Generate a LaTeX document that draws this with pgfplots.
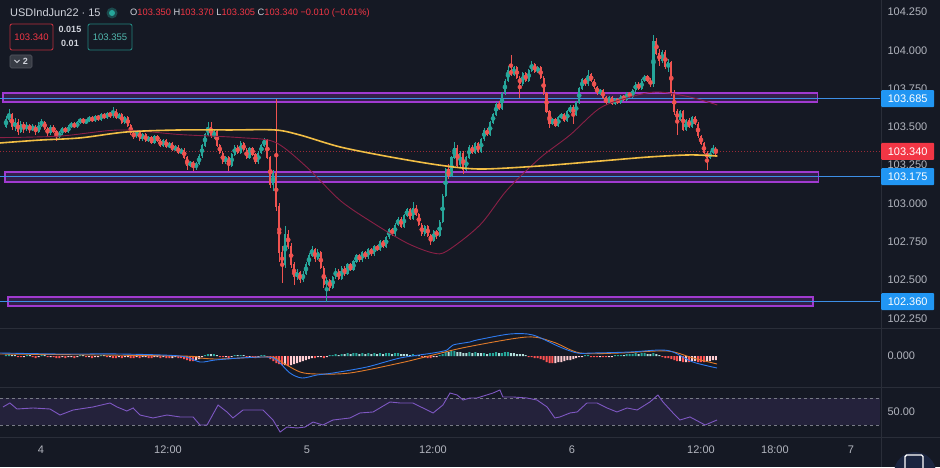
\documentclass[border=0pt]{standalone}
\usepackage{pgfplots}
\pgfplotsset{compat=1.18}
\usepackage{pgfplotstable}
\usepackage{fontspec}
\setmainfont{Liberation Sans}
\definecolor{bg}{HTML}{151924}
\definecolor{sep}{HTML}{2A2E39}
\definecolor{lbl}{HTML}{B2B5BE}
\definecolor{txt}{HTML}{D1D4DC}
\definecolor{upc}{HTML}{26A69A}
\definecolor{dnc}{HTML}{EF5350}
\definecolor{pricered}{HTML}{F23645}
\definecolor{boxpurple}{HTML}{A03AD0}
\definecolor{lineblue}{HTML}{3D8FE6}
\definecolor{lblblue}{HTML}{2196F3}
\definecolor{mayl}{HTML}{F2BE45}
\definecolor{mamar}{HTML}{8A2046}
\definecolor{macdblue}{HTML}{2E7BF0}
\definecolor{macdorange}{HTML}{E07A2A}
\definecolor{hteal}{HTML}{26A69A}
\definecolor{hpteal}{HTML}{B2DFDB}
\definecolor{hpred}{HTML}{FFCDD2}
\definecolor{hred}{HTML}{FF5252}
\definecolor{rsic}{HTML}{7E57C2}
\definecolor{dashgray}{HTML}{787B86}
\definecolor{btn}{HTML}{1B2540}

% 15-minute candles: open high low close
\pgfplotstableread[row sep=\\]{
o h l c\\
103.50 103.57 103.49 103.55\\ 103.55 103.62 103.53 103.58\\ 103.58 103.59 103.48 103.50\\ 103.50 103.56 103.47 103.53\\
103.53 103.55 103.45 103.47\\ 103.47 103.54 103.46 103.52\\ 103.52 103.53 103.46 103.49\\ 103.49 103.53 103.47 103.51\\
103.51 103.52 103.46 103.48\\ 103.48 103.52 103.47 103.50\\ 103.50 103.51 103.45 103.47\\ 103.47 103.53 103.46 103.51\\
103.51 103.55 103.50 103.53\\ 103.53 103.54 103.48 103.49\\ 103.49 103.50 103.44 103.46\\ 103.46 103.51 103.45 103.50\\
103.50 103.51 103.46 103.47\\ 103.47 103.48 103.41 103.44\\ 103.44 103.47 103.43 103.46\\ 103.46 103.50 103.45 103.49\\
103.49 103.50 103.46 103.47\\ 103.47 103.51 103.46 103.50\\ 103.50 103.53 103.49 103.52\\ 103.52 103.53 103.49 103.50\\
103.50 103.54 103.49 103.53\\ 103.53 103.56 103.52 103.55\\ 103.55 103.56 103.52 103.53\\ 103.53 103.55 103.52 103.54\\
103.54 103.57 103.53 103.56\\ 103.56 103.57 103.53 103.54\\ 103.54 103.58 103.53 103.57\\ 103.57 103.58 103.54 103.55\\
103.55 103.59 103.54 103.58\\ 103.58 103.59 103.55 103.56\\ 103.56 103.60 103.55 103.59\\ 103.59 103.60 103.56 103.57\\
103.57 103.63 103.56 103.60\\ 103.60 103.62 103.55 103.56\\ 103.56 103.59 103.55 103.58\\ 103.58 103.59 103.52 103.53\\
103.53 103.57 103.52 103.56\\ 103.56 103.57 103.50 103.51\\ 103.51 103.52 103.45 103.46\\ 103.46 103.47 103.42 103.44\\
103.44 103.48 103.43 103.47\\ 103.47 103.48 103.41 103.42\\ 103.42 103.46 103.41 103.45\\ 103.45 103.46 103.40 103.41\\
103.41 103.44 103.40 103.43\\ 103.43 103.44 103.39 103.40\\ 103.40 103.45 103.39 103.44\\ 103.44 103.45 103.40 103.41\\
103.41 103.42 103.37 103.38\\ 103.38 103.42 103.37 103.41\\ 103.41 103.42 103.36 103.37\\ 103.37 103.40 103.36 103.39\\
103.39 103.40 103.34 103.35\\ 103.35 103.38 103.34 103.37\\ 103.37 103.38 103.32 103.33\\ 103.33 103.36 103.32 103.35\\
103.35 103.36 103.29 103.30\\ 103.30 103.31 103.22 103.25\\ 103.25 103.28 103.24 103.27\\ 103.27 103.28 103.21 103.24\\
103.24 103.27 103.22 103.26\\ 103.26 103.32 103.25 103.31\\ 103.31 103.39 103.30 103.38\\ 103.38 103.46 103.37 103.45\\
103.45 103.53 103.44 103.50\\ 103.50 103.53 103.43 103.44\\ 103.44 103.48 103.42 103.47\\ 103.47 103.48 103.37 103.38\\
103.38 103.39 103.32 103.33\\ 103.33 103.34 103.26 103.27\\ 103.27 103.31 103.26 103.30\\ 103.30 103.31 103.21 103.25\\
103.25 103.33 103.24 103.32\\ 103.32 103.38 103.31 103.37\\ 103.37 103.38 103.32 103.33\\ 103.33 103.41 103.32 103.39\\
103.39 103.40 103.34 103.35\\ 103.35 103.36 103.29 103.30\\ 103.30 103.37 103.29 103.36\\ 103.36 103.37 103.31 103.32\\
103.32 103.33 103.26 103.27\\ 103.27 103.34 103.26 103.33\\ 103.33 103.39 103.32 103.38\\ 103.38 103.43 103.37 103.41\\
103.41 103.42 103.29 103.30\\ 103.30 103.31 103.10 103.12\\ 103.12 103.22 103.08 103.20\\ 103.20 103.68 102.95 102.98\\
102.98 103.00 102.62 102.68\\ 102.68 102.72 102.48 102.60\\ 102.60 102.85 102.58 102.80\\ 102.80 102.83 102.70 102.72\\
102.72 102.74 102.58 102.60\\ 102.60 102.62 102.47 102.52\\ 102.52 102.57 102.50 102.55\\ 102.55 102.56 102.48 102.50\\
102.50 102.56 102.49 102.54\\ 102.54 102.62 102.53 102.60\\ 102.60 102.68 102.59 102.66\\ 102.66 102.72 102.65 102.70\\
102.70 102.71 102.62 102.64\\ 102.64 102.70 102.63 102.68\\ 102.68 102.69 102.57 102.58\\ 102.58 102.59 102.45 102.47\\
102.47 102.52 102.36 102.50\\ 102.50 102.51 102.43 102.45\\ 102.45 102.53 102.44 102.52\\ 102.52 102.58 102.51 102.56\\
102.56 102.57 102.50 102.51\\ 102.51 102.59 102.50 102.58\\ 102.58 102.59 102.53 102.54\\ 102.54 102.61 102.53 102.60\\
102.60 102.61 102.56 102.57\\ 102.57 102.63 102.56 102.62\\ 102.62 102.67 102.61 102.66\\ 102.66 102.67 102.62 102.63\\
102.63 102.69 102.62 102.68\\ 102.68 102.69 102.64 102.65\\ 102.65 102.71 102.64 102.70\\ 102.70 102.71 102.66 102.67\\
102.67 102.73 102.66 102.72\\ 102.72 102.73 102.69 102.70\\ 102.70 102.76 102.69 102.75\\ 102.75 102.76 102.71 102.72\\
102.72 102.79 102.71 102.78\\ 102.78 102.84 102.77 102.83\\ 102.83 102.84 102.79 102.80\\ 102.80 102.87 102.79 102.86\\
102.86 102.91 102.85 102.90\\ 102.90 102.91 102.84 102.85\\ 102.85 102.93 102.84 102.92\\ 102.92 102.97 102.91 102.96\\
102.96 102.97 102.89 102.90\\ 102.90 103.01 102.89 102.97\\ 102.97 102.99 102.92 102.93\\ 102.93 102.94 102.85 102.86\\
102.86 102.87 102.79 102.80\\ 102.80 102.86 102.79 102.85\\ 102.85 102.86 102.78 102.79\\ 102.79 102.80 102.73 102.76\\
102.76 102.83 102.75 102.82\\ 102.82 102.83 102.77 102.79\\ 102.79 102.89 102.78 102.88\\ 102.88 103.06 102.87 103.05\\
103.05 103.23 103.04 103.22\\ 103.22 103.26 103.16 103.18\\ 103.18 103.31 103.17 103.30\\ 103.30 103.40 103.29 103.36\\
103.36 103.38 103.24 103.25\\ 103.25 103.34 103.24 103.33\\ 103.33 103.34 103.19 103.22\\ 103.22 103.31 103.21 103.30\\
103.30 103.38 103.29 103.37\\ 103.37 103.38 103.32 103.33\\ 103.33 103.40 103.32 103.39\\ 103.39 103.40 103.33 103.34\\
103.34 103.43 103.33 103.42\\ 103.42 103.49 103.41 103.48\\ 103.48 103.49 103.44 103.45\\ 103.45 103.54 103.44 103.53\\
103.53 103.59 103.52 103.58\\ 103.58 103.66 103.57 103.65\\ 103.65 103.67 103.61 103.62\\ 103.62 103.73 103.61 103.72\\
103.72 103.81 103.71 103.80\\ 103.80 103.90 103.79 103.87\\ 103.87 103.97 103.83 103.84\\ 103.84 103.90 103.83 103.89\\
103.89 103.90 103.81 103.82\\ 103.82 103.83 103.69 103.78\\ 103.78 103.86 103.77 103.85\\ 103.85 103.86 103.79 103.80\\
103.80 103.88 103.79 103.87\\ 103.87 103.93 103.86 103.91\\ 103.91 103.92 103.85 103.86\\ 103.86 103.90 103.85 103.89\\
103.89 103.90 103.81 103.82\\ 103.82 103.83 103.71 103.72\\ 103.72 103.73 103.59 103.60\\ 103.60 103.61 103.49 103.52\\
103.52 103.56 103.51 103.55\\ 103.55 103.56 103.50 103.51\\ 103.51 103.57 103.50 103.56\\ 103.56 103.59 103.55 103.58\\
103.58 103.59 103.53 103.54\\ 103.54 103.61 103.53 103.60\\ 103.60 103.64 103.59 103.63\\ 103.63 103.64 103.52 103.58\\
103.58 103.67 103.57 103.66\\ 103.66 103.76 103.65 103.75\\ 103.75 103.82 103.74 103.81\\ 103.81 103.82 103.77 103.78\\
103.78 103.87 103.77 103.84\\ 103.84 103.85 103.79 103.80\\ 103.80 103.81 103.75 103.76\\ 103.76 103.77 103.71 103.72\\
103.72 103.75 103.71 103.74\\ 103.74 103.75 103.68 103.69\\ 103.69 103.70 103.64 103.66\\ 103.66 103.70 103.65 103.69\\
103.69 103.70 103.64 103.65\\ 103.65 103.69 103.64 103.68\\ 103.68 103.69 103.65 103.66\\ 103.66 103.71 103.65 103.70\\
103.70 103.71 103.67 103.68\\ 103.68 103.73 103.67 103.72\\ 103.72 103.73 103.69 103.70\\ 103.70 103.75 103.69 103.74\\
103.74 103.79 103.73 103.78\\ 103.78 103.79 103.74 103.75\\ 103.75 103.81 103.74 103.80\\ 103.80 103.84 103.79 103.83\\
103.83 103.84 103.79 103.80\\ 103.80 103.82 103.76 103.78\\ 103.78 104.10 103.76 104.06\\ 104.06 104.08 103.97 103.98\\
103.98 104.01 103.90 103.93\\ 103.93 104.00 103.92 103.99\\ 103.99 104.00 103.88 103.89\\ 103.89 103.94 103.86 103.92\\
103.92 103.93 103.70 103.72\\ 103.72 103.74 103.58 103.60\\ 103.60 103.62 103.45 103.55\\ 103.55 103.61 103.54 103.60\\
103.60 103.61 103.47 103.48\\ 103.48 103.55 103.47 103.54\\ 103.54 103.56 103.49 103.50\\ 103.50 103.57 103.49 103.56\\
103.56 103.57 103.51 103.52\\ 103.52 103.53 103.43 103.44\\ 103.44 103.45 103.38 103.39\\ 103.39 103.40 103.32 103.33\\
103.33 103.34 103.22 103.30\\ 103.30 103.34 103.29 103.33\\ 103.33 103.38 103.32 103.36\\ 103.35 103.37 103.305 103.34\\
}\candles

% MACD histogram: value, colour class (0 teal, 1 pale teal, 2 pale red, 3 red)
\pgfplotstableread[row sep=\\]{
v k\\
0.001 0\\ 0.002 0\\ 0.001 1\\ 0.001 1\\ -0.001 3\\ -0.001 3\\ -0.001 2\\ 0.001 0\\ 0.001 1\\ -0.001 3\\
-0.002 3\\ -0.001 2\\ 0.001 0\\ 0.001 1\\ -0.001 3\\ -0.001 2\\ -0.001 3\\ -0.002 3\\ -0.002 3\\ -0.001 2\\
-0.002 3\\ -0.001 2\\ -0.001 2\\ -0.002 3\\ -0.001 2\\ 0.001 0\\ 0.001 1\\ -0.001 3\\ -0.001 2\\ -0.002 3\\
-0.001 2\\ -0.001 2\\ 0.001 0\\ 0.001 1\\ -0.001 3\\ -0.001 2\\ -0.002 3\\ -0.002 3\\ -0.001 2\\ -0.002 3\\
-0.001 2\\ -0.001 2\\ -0.002 3\\ -0.002 3\\ -0.001 2\\ -0.002 3\\ -0.001 2\\ -0.001 2\\ -0.002 3\\ -0.002 3\\
-0.001 2\\ -0.001 2\\ -0.002 3\\ -0.001 2\\ -0.002 3\\ -0.002 3\\ -0.002 2\\ -0.001 2\\ -0.002 3\\ -0.002 3\\
-0.003 3\\ -0.004 3\\ -0.005 3\\ -0.005 3\\ -0.004 2\\ -0.003 2\\ -0.001 2\\ 0.001 0\\ 0.002 0\\ 0.002 1\\
0.002 0\\ 0.001 1\\ -0.001 3\\ -0.001 3\\ -0.001 2\\ -0.002 3\\ -0.001 2\\ 0.001 0\\ 0.001 1\\ 0.001 0\\
0.001 1\\ -0.001 3\\ -0.001 2\\ -0.001 3\\ -0.002 3\\ -0.001 2\\ 0.001 0\\ 0.001 0\\ -0.001 3\\ -0.003 3\\
-0.005 3\\ -0.007 3\\ -0.008 3\\ -0.009 3\\ -0.009 2\\ -0.010 3\\ -0.009 2\\ -0.008 2\\ -0.007 2\\ -0.006 2\\
-0.005 2\\ -0.004 2\\ -0.003 2\\ -0.002 2\\ -0.002 3\\ -0.001 2\\ -0.001 2\\ -0.002 3\\ -0.001 2\\ 0.001 0\\
0.001 0\\ 0.002 0\\ 0.001 1\\ 0.002 0\\ 0.002 1\\ 0.003 0\\ 0.002 1\\ 0.003 0\\ 0.003 0\\ 0.002 1\\
0.003 0\\ 0.002 1\\ 0.003 0\\ 0.002 1\\ 0.003 0\\ 0.002 1\\ 0.003 0\\ 0.002 1\\ 0.003 0\\ 0.003 0\\
0.002 1\\ 0.003 0\\ 0.003 0\\ 0.002 1\\ 0.002 1\\ 0.002 1\\ 0.001 1\\ 0.002 0\\ 0.001 1\\ 0.001 1\\
-0.001 3\\ -0.001 2\\ -0.002 3\\ -0.002 3\\ -0.001 2\\ -0.001 2\\ 0.001 0\\ 0.002 0\\ 0.004 0\\ 0.004 1\\
0.005 0\\ 0.005 0\\ 0.004 1\\ 0.004 1\\ 0.003 1\\ 0.003 1\\ 0.004 0\\ 0.003 1\\ 0.004 0\\ 0.003 1\\
0.003 1\\ 0.003 0\\ 0.002 1\\ 0.003 0\\ 0.003 0\\ 0.004 0\\ 0.003 1\\ 0.003 0\\ 0.004 0\\ 0.004 0\\
0.003 1\\ 0.003 1\\ 0.002 1\\ 0.002 1\\ 0.002 1\\ 0.001 1\\ -0.001 3\\ -0.001 3\\ -0.002 3\\ -0.002 3\\
-0.003 3\\ -0.004 3\\ -0.006 3\\ -0.007 3\\ -0.007 3\\ -0.007 2\\ -0.006 2\\ -0.006 2\\ -0.005 2\\ -0.004 2\\
-0.004 2\\ -0.003 2\\ -0.002 2\\ -0.001 2\\ -0.001 2\\ 0.001 0\\ 0.001 0\\ -0.001 3\\ -0.001 3\\ -0.001 3\\
-0.001 2\\ -0.001 3\\ -0.001 3\\ -0.001 2\\ -0.001 2\\ 0.001 0\\ 0.001 0\\ 0.001 0\\ 0.001 1\\ 0.002 0\\
0.002 0\\ 0.002 0\\ 0.003 0\\ 0.002 1\\ 0.003 0\\ 0.003 0\\ 0.002 1\\ 0.002 1\\ 0.003 0\\ 0.002 1\\
0.001 1\\ -0.001 3\\ -0.002 3\\ -0.002 3\\ -0.003 3\\ -0.004 3\\ -0.005 3\\ -0.005 2\\ -0.006 3\\ -0.006 2\\
-0.006 3\\ -0.005 2\\ -0.005 2\\ -0.006 3\\ -0.006 3\\ -0.006 3\\ -0.005 2\\ -0.005 2\\ -0.004 2\\ -0.004 2\\
}\hist

\begin{document}
\begin{tikzpicture}[x=1pt,y=1pt]
\fill[bg] (0pt,0pt) rectangle (940pt,467pt);
\pgfplotsset{panel/.style={scale only axis, width=880pt, anchor=south west,
  xmin=-2.02, xmax=294.28, axis line style={draw=none}, tick style={draw=none},
  xtick=\empty, yticklabel pos=right, clip mode=individual, scaled y ticks=false,
  tick label style={font=\fontsize{11}{13}\selectfont, text=lbl},
  yticklabel style={xshift=4pt},
  /pgf/number format/assume math mode=true}}

% ---------------- price panel ----------------
\begin{axis}[panel, at={(0pt,140pt)}, height=327pt, ymin=102.1938, ymax=104.3283,
  ytick={102.25,102.5,102.75,103,103.25,103.5,103.75,104,104.25},
  y tick label style={/pgf/number format/fixed, /pgf/number format/fixed zerofill, /pgf/number format/precision=3}]
% zones
\addplot[draw=boxpurple, line width=1.2pt, fill=boxpurple, fill opacity=0.22] coordinates {(-1.01,103.663) (273.1,103.663) (273.1,103.721) (-1.01,103.721)} -- cycle;
\addplot[draw=boxpurple, line width=1.2pt, fill=boxpurple, fill opacity=0.22] coordinates {(-0.34,103.140) (273.7,103.140) (273.7,103.206) (-0.34,103.206)} -- cycle;
\addplot[draw=boxpurple, line width=1.2pt, fill=boxpurple, fill opacity=0.22] coordinates {(0.67,102.331) (271.7,102.331) (271.7,102.390) (0.67,102.390)} -- cycle;
\addplot[lineblue, line width=0.9pt] coordinates {(-2.02,103.685) (294.28,103.685)};
\addplot[lineblue, line width=0.9pt] coordinates {(-2.02,103.175) (294.28,103.175)};
\addplot[lineblue, line width=0.9pt] coordinates {(-2.02,102.360) (294.28,102.360)};
\addplot[pricered, opacity=0.6, line width=0.7pt, dash pattern=on 1pt off 2pt] coordinates {(-2.02,103.34) (294.28,103.34)};
% candles: wicks
\addplot[upc, only marks, mark=none, error bars/.cd, y dir=both, y explicit, error mark=none, error bar style={draw=upc, line width=0.7pt}]
  table[x expr=\coordindex, y expr={\thisrow{c}>=\thisrow{o} ? 0.5*(\thisrow{h}+\thisrow{l}) : nan}, y error expr={0.5*(\thisrow{h}-\thisrow{l})}] {\candles};
\addplot[dnc, only marks, mark=none, error bars/.cd, y dir=both, y explicit, error mark=none, error bar style={draw=dnc, line width=0.7pt}]
  table[x expr=\coordindex, y expr={\thisrow{c}<\thisrow{o} ? 0.5*(\thisrow{h}+\thisrow{l}) : nan}, y error expr={0.5*(\thisrow{h}-\thisrow{l})}] {\candles};
% candles: bodies
\addplot[upc, only marks, mark=none, error bars/.cd, y dir=both, y explicit, error mark=none, error bar style={draw=upc, line width=2.1pt}]
  table[x expr=\coordindex, y expr={\thisrow{c}>=\thisrow{o} ? 0.5*(\thisrow{o}+\thisrow{c}) : nan}, y error expr={0.5*abs(\thisrow{c}-\thisrow{o})+0.002}] {\candles};
\addplot[dnc, only marks, mark=none, error bars/.cd, y dir=both, y explicit, error mark=none, error bar style={draw=dnc, line width=2.1pt}]
  table[x expr=\coordindex, y expr={\thisrow{c}<\thisrow{o} ? 0.5*(\thisrow{o}+\thisrow{c}) : nan}, y error expr={0.5*abs(\thisrow{c}-\thisrow{o})+0.002}] {\candles};
% moving averages
\addplot[mamar, line width=0.9pt, smooth] coordinates {(-2.02,103.43) (18.2,103.44) (38.4,103.48) (58.6,103.45) (78.8,103.43) (90.6,103.40) (101.3,103.237) (112.5,103.02) (123.6,102.873) (135.0,102.742) (143.8,102.677) (148.5,102.69) (159.6,102.86) (168.7,103.088) (179.8,103.297) (189.9,103.447) (200,103.623) (210.1,103.695) (219.2,103.728) (230.3,103.695) (239.5,103.643)};
\addplot[mayl, line width=1.6pt, smooth] coordinates {(-2.02,103.395) (11.4,103.414) (24.9,103.428) (40.7,103.467) (58.6,103.48) (75.4,103.48) (90.6,103.48) (99.0,103.447) (112.5,103.369) (129.3,103.304) (146.1,103.25) (159.6,103.225) (179.8,103.245) (200,103.277) (216.8,103.304) (230.3,103.317) (239.5,103.31)};
\coordinate (LA) at (axis cs:294.28,103.685);
\coordinate (LB) at (axis cs:294.28,103.34);
\coordinate (LC) at (axis cs:294.28,103.175);
\coordinate (LD) at (axis cs:294.28,102.36);
\end{axis}

% ---------------- MACD panel ----------------
\begin{axis}[panel, at={(0pt,81pt)}, height=57pt, ymin=-0.030, ymax=0.027, ytick={0},
  y tick label style={/pgf/number format/fixed, /pgf/number format/fixed zerofill, /pgf/number format/precision=3}]
\addplot[ybar, bar width=2pt, bar shift=0pt, fill=hteal, draw=none] table[x expr=\coordindex, y expr={\thisrow{k}==0 ? \thisrow{v} : nan}] {\hist};
\addplot[ybar, bar width=2pt, bar shift=0pt, fill=hpteal, draw=none] table[x expr=\coordindex, y expr={\thisrow{k}==1 ? \thisrow{v} : nan}] {\hist};
\addplot[ybar, bar width=2pt, bar shift=0pt, fill=hpred, draw=none] table[x expr=\coordindex, y expr={\thisrow{k}==2 ? \thisrow{v} : nan}] {\hist};
\addplot[ybar, bar width=2pt, bar shift=0pt, fill=hred, draw=none] table[x expr=\coordindex, y expr={\thisrow{k}==3 ? \thisrow{v} : nan}] {\hist};
\addplot[macdorange, line width=0.9pt, smooth] coordinates {(-2.02,0.002) (58.6,0.000) (65.3,-0.002) (72.1,-0.003) (88.9,-0.001) (93.3,-0.007) (99.0,-0.016) (104.7,-0.018) (115.8,-0.017) (132.7,-0.007) (143.8,0.001) (155.2,0.009) (175.4,0.019) (184.2,0.014) (193.3,0.003) (206.7,0.003) (222.6,0.005) (231.3,-0.002) (239.4,-0.008)};
\addplot[macdblue, line width=0.9pt, smooth] coordinates {(-2.02,0.003) (18.2,0.002) (38.4,0.002) (58.6,0.000) (65.3,-0.006) (70.4,-0.004) (78.8,-0.002) (87.9,-0.001) (91.2,-0.004) (95.6,-0.017) (99.7,-0.022) (104.7,-0.019) (110.1,-0.017) (121.5,-0.011) (132.7,-0.002) (143.8,0.003) (148.5,0.006) (150.5,0.011) (156.2,0.014) (158.6,0.016) (169.7,0.022) (177.4,0.021) (186.5,0.009) (192.3,0.003) (197.6,0.003) (210.1,0.004) (220.2,0.006) (224.6,0.004) (231.3,-0.006) (239.4,-0.012)};
\end{axis}

% ---------------- RSI panel ----------------
\begin{axis}[panel, at={(0pt,31pt)}, height=48pt, ymin=13.7, ymax=84.8, ytick={50},
  y tick label style={/pgf/number format/fixed, /pgf/number format/fixed zerofill, /pgf/number format/precision=2},
  xtick={11.78,54.55,101.35,143.77,190.57,234.0,258.9,284.5},
  xticklabels={4,12:00,5,12:00,6,12:00,18:00,7},
  xticklabel style={yshift=-6pt}]
\addplot[draw=none, fill=rsic, fill opacity=0.15] coordinates {(-2.02,30) (294.28,30) (294.28,70) (-2.02,70)} -- cycle;
\addplot[dashgray, line width=0.7pt, dash pattern=on 3pt off 3pt] coordinates {(-2.02,70) (294.28,70)};
\addplot[dashgray, line width=0.7pt, dash pattern=on 3pt off 3pt] coordinates {(-2.02,30) (294.28,30)};
\addplot[rsic, line width=0.9pt] coordinates {(-1.0,56.7) (1.3,62.6) (3.7,53.7) (9.1,55.2) (14.8,53.7) (18.2,44.8) (22.6,52.2) (29.3,56.7) (35.0,62.6) (37.4,56.7) (40.7,50.7) (42.8,55.2) (45.1,44.8) (49.5,40.4) (54.2,44.8) (58.6,41.9) (63.0,41.9) (65.3,30.0) (67.7,30.0) (71.4,59.6) (74.4,49.3) (76.4,40.4) (79.8,52.2) (86.5,52.2) (89.9,37.4) (92.3,19.6) (94.6,27.0) (98.0,25.6) (100.7,27.0) (103.4,34.4) (106.7,30.0) (110.1,37.4) (115.8,40.4) (119.2,47.8) (123.6,49.3) (129.3,64.1) (132.7,62.6) (137.0,62.6) (140.4,55.2) (143.8,47.8) (147.1,59.6) (149.5,77.4) (151.9,74.4) (153.9,67.0) (156.2,70.0) (158.6,70.0) (164.0,77.4) (166.3,81.9) (167.3,71.5) (170.7,71.5) (175.4,70.0) (178.8,67.0) (182.2,56.7) (184.8,40.4) (186.5,41.9) (189.9,47.8) (192.3,49.3) (195.6,62.6) (199.0,62.6) (202.4,55.2) (205.7,49.3) (209.1,55.2) (212.5,52.2) (216.8,64.1) (219.5,74.4) (221.2,64.1) (224.6,47.8) (226.9,37.4) (230.3,41.9) (235.4,30.0) (239.4,37.4)};
\end{axis}

% separators
\draw[sep, line width=1pt] (0pt,139pt) -- (940pt,139pt);
\draw[sep, line width=1pt] (0pt,80pt) -- (940pt,80pt);
\draw[sep, line width=1pt] (0pt,30pt) -- (940pt,30pt);
\draw[sep, line width=1pt] (881pt,0pt) -- (881pt,467pt);

% price labels on the scale
\tikzset{plbl/.style={anchor=west, inner sep=0pt, minimum width=53pt, minimum height=17pt, text=white, font=\fontsize{11}{13}\selectfont, rounded corners=1pt}}
\node[plbl, fill=lblblue] at ([xshift=1pt]LA) {103.685};
\node[plbl, fill=pricered] at ([xshift=1pt]LB) {103.340};
\node[plbl, fill=lblblue] at ([xshift=1pt]LC) {103.175};
\node[plbl, fill=lblblue] at ([xshift=1pt]LD) {102.360};

% header
\node[anchor=west, inner sep=0, text=txt, font=\fontsize{11}{13}\selectfont] at (10pt,454pt) {USDIndJun22\hspace{3pt}·\hspace{3pt}15};
\fill[upc!35!bg] (112pt,454pt) circle (5.5pt);
\fill[upc] (112pt,454pt) circle (3pt);
\node[anchor=west, inner sep=0, font=\fontsize{9.3}{11}\selectfont] at (130pt,454pt)
  {\textcolor{txt}{O}\textcolor{pricered}{103.350}\hspace{2.5pt}\textcolor{txt}{H}\textcolor{pricered}{103.370}\hspace{2.5pt}\textcolor{txt}{L}\textcolor{pricered}{103.305}\hspace{2.5pt}\textcolor{txt}{C}\textcolor{pricered}{103.340}\hspace{2.5pt}\textcolor{pricered}{−0.010 (−0.01\%)}};
\draw[pricered!75!bg, line width=0.9pt, rounded corners=2pt] (10pt,417pt) rectangle (53pt,443pt);
\node[text=pricered, font=\fontsize{9.5}{11}\selectfont] at (31.5pt,430pt) {103.340};
\node[text=txt, font=\fontsize{9}{11}\selectfont\bfseries] at (70pt,438pt) {0.015};
\node[text=txt, font=\fontsize{9}{11}\selectfont\bfseries] at (70pt,424pt) {0.01};
\draw[upc!75!bg, line width=0.9pt, rounded corners=2pt] (88pt,417pt) rectangle (132pt,443pt);
\node[text=upc!80!white, font=\fontsize{9.5}{11}\selectfont] at (110pt,430pt) {103.355};
\draw[sep!80!white, line width=0.7pt, rounded corners=1.5pt, fill=bg!85!white] (10pt,399pt) rectangle (32pt,412pt);
\draw[txt, line width=0.8pt] (14.5pt,407pt) -- (17pt,404.5pt) -- (19.5pt,407pt);
\node[text=txt, font=\fontsize{9}{11}\selectfont\bfseries] at (25.5pt,405.5pt) {2};

% corner button
\fill[btn] (915pt,-6pt) circle (21pt);
\draw[white, line width=1.4pt, rounded corners=1.5pt] (905pt,-8pt) rectangle (923pt,12pt);

\pgfresetboundingbox
\useasboundingbox (0pt,0pt) rectangle (940pt,467pt);
\end{tikzpicture}
\end{document}
